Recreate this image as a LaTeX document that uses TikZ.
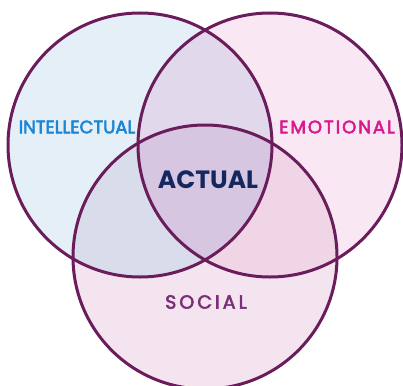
\documentclass[tikz,border=0pt]{standalone}
\usepackage{fontspec}
\setmainfont{Poppins}
\newfontfamily\medfont[FakeBold=3]{Poppins}
\newfontfamily\spacedfont[LetterSpace=11,FakeBold=3]{Poppins}
\newfontfamily\widefont[LetterSpace=16,FakeBold=3]{Poppins}
\usetikzlibrary{positioning}
\definecolor{ringcol}{HTML}{6A1C5B}
\definecolor{intcol}{HTML}{E4EFF7}
\definecolor{emocol}{HTML}{F9E7F3}
\definecolor{soccol}{HTML}{F3E4F0}
\definecolor{iecol}{HTML}{E1D9EB}
\definecolor{iscol}{HTML}{D9DDEB}
\definecolor{escol}{HTML}{F0D5E7}
\definecolor{allcol}{HTML}{D7C6E1}
\definecolor{inttext}{HTML}{1C86D6}
\definecolor{emotext}{HTML}{D81A8E}
\definecolor{acttext}{HTML}{14285F}
\definecolor{soctext}{HTML}{7B2F79}
\tikzstyle{ring}=[draw=ringcol,line width=3pt]
\tikzstyle{label}=[inner sep=0pt,font=\fontsize{18}{18}\selectfont]

\begin{document}
\begin{tikzpicture}[x=1pt,y=-1pt]
    \useasboundingbox (0,0) rectangle (403,385);
    \clip (0,0) rectangle (403,385);
    \coordinate (I) at (140,145);
    \coordinate (E) at (270,145);
    \coordinate (S) at (205,257);
    % fills of the three sets and their overlaps
    \fill [intcol] (I) circle (132pt);
    \fill [emocol] (E) circle (132pt);
    \fill [soccol] (S) circle (132pt);
    \begin{scope}
      \clip (E) circle (132pt);
      \fill [escol] (S) circle (132pt);
    \end{scope}
    \begin{scope}
      \clip (I) circle (132pt);
      \fill [iecol] (E) circle (132pt);
      \fill [iscol] (S) circle (132pt);
      \clip (E) circle (132pt);
      \fill [allcol] (S) circle (132pt);
    \end{scope}
    % outlines
    \draw [ring] (I) circle (132pt);
    \draw [ring] (E) circle (132pt);
    \draw [ring] (S) circle (132pt);
    % labels
    \node [label,text=inttext] (intel) at (77,127) {\medfont INTELLECTUAL};
    \node [label,text=emotext] (emo) at (337,127) {\spacedfont EMOTIONAL};
    \node [label,text=acttext,font=\fontsize{25}{25}\selectfont\bfseries] (actual) at (208,180) {ACTUAL};
    \node [label,text=soctext,font=\fontsize{19}{19}\selectfont] (social) at (206,302) {\widefont SOCIAL};
\end{tikzpicture}
\end{document}
